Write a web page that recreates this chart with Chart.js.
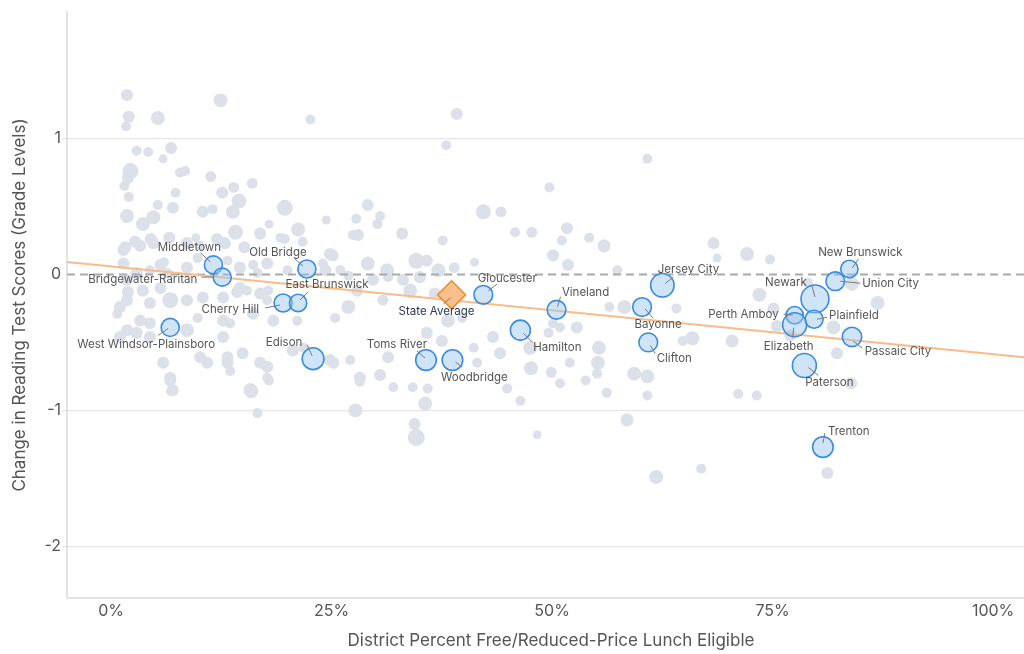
<!DOCTYPE html>
<html>
<head>
<meta charset="utf-8">
<script src="https://cdn.jsdelivr.net/npm/chart.js@4"></script>
<style>
  html, body { margin: 0; padding: 0; background: #fff; }
  #wrap { width: 1024px; height: 654px; }
</style>
</head>
<body>
<div id="wrap"><canvas id="chart" width="1024" height="654"></canvas></div>
<script>
'use strict';

// Highlighted districts: % free/reduced lunch, change in grade levels, enrollment (thousands)
const districtNames = ['Middletown', 'Bridgewater-Raritan', 'Old Bridge', 'Cherry Hill', 'East Brunswick',
    'West Windsor-Plainsboro', 'Edison', 'Toms River', 'Woodbridge', 'Gloucester', 'Hamilton', 'Vineland',
    'Bayonne', 'Clifton', 'Jersey City', 'Perth Amboy', 'Elizabeth', 'Newark', 'Plainfield', 'Union City',
    'New Brunswick', 'Passaic City', 'Paterson', 'Trenton'];
const districtLunch = [11.6, 12.6, 22.2, 19.5, 21.2, 6.7, 22.9, 35.7, 38.7, 42.2, 46.4, 50.5,
    60.2, 60.9, 62.5, 77.5, 77.5, 79.8, 79.7, 82.1, 83.7, 84.0, 78.6, 80.7];
const districtChange = [0.07, -0.02, 0.04, -0.21, -0.21, -0.39, -0.62, -0.63, -0.63, -0.15, -0.41, -0.26,
    -0.24, -0.50, -0.08, -0.30, -0.37, -0.18, -0.33, -0.05, 0.04, -0.46, -0.67, -1.27];
const districtEnroll = [13, 13, 13, 13, 12, 13, 19, 17, 17, 14, 16, 14,
    14, 14, 22, 12, 23, 31, 13, 14, 12, 15, 23, 17];

// State average
const stateLunch = [38.6];
const stateChange = [-0.15];

// All other districts
const otherLunch = [1.8, 2.0, 1.7, 5.3, 12.4, 22.6, 39.2, 38.0, 2.9, 4.2, 6.8, 5.9, 60.8, 49.7,
    2.2, 1.9, 1.5, 2.0, 1.8, 5.3, 7.0, 7.3, 7.8, 8.4, 11.3, 13.9, 16.0, 12.6, 14.5, 13.8, 10.4, 11.5,
    3.6, 4.8, 14.1, 19.7, 17.9, 21.2, 19.7, 21.7, 24.4, 6.6, 4.5, 2.7, 1.6, 9.6, 12.9, 15.1,
    27.8, 29.1, 30.5, 30.2, 28.0, 33.0, 37.6, 42.2, 44.2, 45.8, 47.7, 50.1, 25.1, 51.7, 51.1, 54.2,
    55.9, 51.8, 57.4, 68.3, 68.7, 72.1, 74.7, 79.0, 73.5, 16.9, 12.0, 8.6, 3.3, 4.8, 10.1, 19.2, 27.4,
    1.4, 2.9, 5.6, 6.4, 8.6, 6.0, 4.4, 9.8, 13.2, 14.6, 16.1, 16.6, 17.7, 20.0, 24.3, 24.8, 24.0,
    26.0, 26.9, 29.1, 31.3, 34.6, 35.8, 37.1, 38.9, 41.2, 29.7, 31.4, 33.1, 35.0, 33.9, 27.9,
    1.8, 3.6, 5.6, 1.9, 14.6, 16.9, 14.3, 15.4, 17.8, 1.4,
    6.7, 1.8, 1.0, 8.6, 10.4, 12.7, 17.7, 21.1, 18.4, 4.4, 0.7, 3.3, 4.4, 9.8, 8.6, 12.7, 16.1,
    1.8, 1.0, 2.9, 4.4, 12.7, 14.9, 10.1, 10.9, 13.2, 13.2, 5.9, 6.7, 7.0, 16.9, 17.7, 17.7, 15.8,
    16.6, 20.6, 21.8, 25.2, 27.1, 28.2, 27.7, 31.4, 32.0, 26.9, 25.4, 30.8, 36.7, 38.2, 39.8, 35.8,
    37.5, 41.1, 41.5, 43.3, 44.1, 47.5, 49.6, 50.1, 44.9, 46.4, 47.6, 49.9, 30.5, 28.2, 35.9,
    35.6, 34.4, 34.6, 48.3, 50.9, 56.2, 60.8, 58.5, 71.1, 73.2, 61.8, 66.9, 81.2, 83.9,
    6.7, 6.8, 15.9, 17.9, 56.5, 58.2, 64.1, 52.8, 50.9, 55.3, 52.0, 55.2, 53.8, 55.1, 59.3, 60.8,
    64.8, 65.9, 70.4, 75.1, 81.9, 82.3, 86.9, 84.0, 75.5, 77.0, 34.2, 13.5, 24.8, 13.5];
const otherChange = [1.32, 1.16, 1.09, 1.15, 1.28, 1.14, 1.18, 0.95, 0.91, 0.90, 0.93, 0.85, 0.85, 0.64,
    0.76, 0.71, 0.65, 0.57, 0.43, 0.51, 0.49, 0.60, 0.75, 0.76, 0.72, 0.64, 0.67, 0.60, 0.54, 0.46, 0.46, 0.48,
    0.37, 0.42, 0.31, 0.49, 0.37, 0.33, 0.26, 0.24, 0.40, 0.27, 0.26, 0.24, 0.20, 0.27, 0.23, 0.20,
    0.41, 0.51, 0.43, 0.37, 0.29, 0.30, 0.25, 0.46, 0.46, 0.31, 0.31, 0.14, 0.14, 0.34, 0.25, 0.27,
    0.21, 0.07, 0.03, 0.23, 0.12, 0.15, 0.11, -0.06, -0.15, 0.30, 0.26, 0.23, 0.21, 0.23, 0.21, 0.27, 0.29,
    0.08, 0.01, 0.07, 0.01, 0.05, 0.09, 0.03, 0.12, 0.10, 0.05, 0.07, 0.01, 0.08, 0.03, 0.03, 0.15, 0.08,
    0.03, -0.01, 0.08, 0.03, 0.10, 0.10, 0.03, 0.05, 0.09, -0.04, -0.02, -0.04, -0.02, -0.12, -0.12,
    -0.04, -0.12, -0.10, -0.13, -0.10, -0.14, -0.13, -0.12, -0.12, 0.18,
    -0.19, -0.19, -0.24, -0.19, -0.17, -0.17, -0.19, -0.34, -0.34, -0.21, -0.29, -0.34, -0.36, -0.32, -0.41, -0.34, -0.29,
    -0.41, -0.46, -0.43, -0.46, -0.46, -0.58, -0.61, -0.65, -0.61, -0.65, -0.65, -0.76, -0.85, -0.65, -0.68, -0.76, -0.85,
    -1.02, -0.56, -0.54, -0.65, -0.63, -0.76, -1.00, -0.61, -0.83, -0.24, -0.32, -0.19, -0.14, -0.34, -0.32, -0.43,
    -0.49, -0.54, -0.65, -0.46, -0.58, -0.54, -0.43, -0.36, -0.84, -0.93, -0.69, -0.72, -0.74, -0.79, -0.84,
    -0.95, -1.10, -1.20, -1.18, -0.80, -0.87, -0.89, -1.07, -0.88, -0.89, -1.49, -1.43, -1.46, -0.80,
    -0.78, -0.86, -0.86, -0.78, -0.24, -0.24, -0.25, -0.39, -0.39, -0.54, -0.65, -0.65, -0.78, -0.73, -0.73, -0.75,
    -0.49, -0.47, -0.49, -0.25, -0.39, -0.58, -0.21, -0.07, -0.38, -0.45, -0.83, -0.36, -0.63, -0.71];
const otherEnroll = [5.8, 5.8, 4, 7.8, 7.8, 4, 5.8, 4, 4, 4, 5.8, 3.2, 4, 4,
    10.2, 5.8, 4, 4, 7.8, 4, 5.8, 4, 4, 4, 4.8, 4.8, 4.8, 5.8, 9, 7.8, 5.8, 4,
    7.8, 7.8, 9, 10.2, 3.2, 7.8, 4, 4, 3.2, 5.8, 5.8, 5.8, 5.8, 3.2, 5.8, 5.8,
    4, 5.8, 4, 4, 5.8, 5.8, 4, 9, 4.8, 4, 4.8, 5.8, 5.8, 5.8, 4, 4,
    6.8, 5.8, 4, 5.8, 3.2, 7.8, 4, 4, 7.8, 5.8, 5.8, 5.8, 5.8, 5.8, 4, 4, 4,
    5.8, 5.8, 5.8, 4, 5.8, 4, 4, 4, 4, 5.8, 4, 4, 5.8, 4, 5.8, 5.8, 4,
    4, 4, 7.8, 7.8, 10.2, 5.8, 7.8, 4.8, 3.2, 5.8, 4, 5.8, 5.8, 7.8, 5.8,
    5.8, 5.8, 5.8, 5.8, 5.8, 5.8, 5.8, 4, 4, 5.8,
    10.2, 5.8, 5.8, 5.8, 5.8, 5.8, 4, 4, 5.8, 5.8, 4, 5.8, 5.8, 4, 7.8, 5.8, 5.8,
    5.8, 5.8, 5.8, 5.8, 5.8, 5.8, 5.8, 5.8, 5.8, 5.8, 5.8, 5.8, 5.8, 5.8, 5.8, 4, 7.8,
    4, 5.8, 4, 5.8, 4, 5.8, 7.8, 5.8, 4, 7.8, 4, 4.8, 5.8, 7.8, 4, 5.8,
    5.8, 4, 4, 5.8, 5.8, 7.8, 4, 4, 4, 4, 7.8, 4.8, 5.8, 4, 4,
    7.8, 5.8, 11.6, 3.2, 4, 4, 4, 6.8, 4, 4, 7.8, 4, 5.8, 5.8,
    5.8, 4, 7.8, 4, 4, 7.8, 4, 5.8, 4, 7.8, 4, 7.8, 4, 4, 7.8, 7.8,
    4, 7.8, 6.8, 5.8, 7.8, 5.8, 7.8, 7.8, 5.8, 5.8, 4, 4, 5.8, 4];

// Linear fit across the plotted range, and the zero reference
const trendLunch = [-5, 103.5];
const trendChange = [0.092, -0.61];
const zeroLunch = [-5, 103.5];
const zeroChange = [0, 0];

// Axis ticks
const xTickValues = [0, 25, 50, 75, 100];
const yTickValues = [-2, -1, 0, 1];

// Label placement (pixels relative to the circle)
const labelSpots = {
    'Middletown': { dx: -24, dy: -17, align: 'center', lead: [-3, -3, -13, -12] },
    'Bridgewater-Raritan': { dx: -25, dy: 2, align: 'right', lead: [-9, 0, -21, 0] },
    'Old Bridge': { dx: -29, dy: -16, align: 'center', lead: [-4, -3, -12, -10] },
    'Cherry Hill': { dx: -24, dy: 7, align: 'right', lead: [-3, 2, -18, 5] },
    'East Brunswick': { dx: 29, dy: -18, align: 'center', lead: [2, -3, 10, -11] },
    'West Windsor-Plainsboro': { dx: -24, dy: 17, align: 'center', lead: [-2, 1, -12, 8] },
    'Edison': { dx: -29, dy: -16, align: 'center', lead: [-1, -3, -6, -14] },
    'Toms River': { dx: -29, dy: -16, align: 'center', lead: [-1, -2, -9, -9] },
    'Woodbridge': { dx: 22, dy: 17, align: 'center', lead: [3, 2, 10, 7] },
    'Gloucester': { dx: 24, dy: -16, align: 'center', lead: [5, -4, 14, -11] },
    'Hamilton': { dx: 37, dy: 17, align: 'center', lead: [3, 3, 12, 12] },
    'Vineland': { dx: 29, dy: -17, align: 'center', lead: [1, -3, 4, -13] },
    'Bayonne': { dx: 16, dy: 18, align: 'center', lead: [3, 2, 11, 11] },
    'Clifton': { dx: 26, dy: 16, align: 'center', lead: [2, 3, 7, 11] },
    'Jersey City': { dx: 26, dy: -16, align: 'center', lead: [3, -2, 11, -8] },
    'Perth Amboy': { dx: -16, dy: -1, align: 'right', lead: [-2, 0, -11, -1] },
    'Elizabeth': { dx: -6, dy: 22, align: 'center', lead: [-1, 3, -2, 13] },
    'Newark': { dx: -29, dy: -16, align: 'center', lead: [0, -2, -3, -13] },
    'Plainfield': { dx: 15, dy: -4, align: 'left', lead: [3, 0, 13, -2] },
    'Union City': { dx: 27, dy: 2, align: 'left', lead: [5, 0, 25, 2] },
    'New Brunswick': { dx: 11, dy: -16, align: 'center', lead: [3, -1, 9, -10] },
    'Passaic City': { dx: 46, dy: 15, align: 'center', lead: [1, 4, 10, 11] },
    'Paterson': { dx: 25, dy: 17, align: 'center', lead: [4, 2, 14, 10] },
    'Trenton': { dx: 5, dy: -16, align: 'left', lead: [0, -4, 2, -14] },
    'State Average': { dx: -15, dy: 17, align: 'center', lead: [-1, 3, -8, 9] }
};

const fontFamily = 'Inter, "Noto Sans", sans-serif';
const textColor = '#555555';
const grayDot = '#dce1e9';

const radiusOf = (k) => 2.5 * Math.sqrt(k);

const toPoints = (xs, ys) => xs.map((x, i) => ({ x: x, y: ys[i] }));
const toBubbles = (xs, ys, ks) => xs.map((x, i) => ({ x: x, y: ys[i], r: radiusOf(ks[i]) }));

// Labels, leader lines and axis titles
const annotatePlugin = {
    id: 'annotate',
    afterDatasetsDraw(chart) {
        const ctx = chart.ctx;
        ctx.save();
        ctx.textBaseline = 'middle';
        const drawLabel = (name, el, color) => {
            const s = labelSpots[name];
            if (!s) return;
            ctx.strokeStyle = '#7a7a7a';
            ctx.lineWidth = 1;
            ctx.beginPath();
            ctx.moveTo(el.x + s.lead[0], el.y + s.lead[1]);
            ctx.lineTo(el.x + s.lead[2], el.y + s.lead[3]);
            ctx.stroke();
            ctx.fillStyle = color;
            ctx.textAlign = s.align;
            ctx.font = '11.5px ' + fontFamily;
            ctx.fillText(name, el.x + s.dx, el.y + s.dy);
        };
        chart.getDatasetMeta(3).data.forEach((el, i) => drawLabel(districtNames[i], el, textColor));
        chart.getDatasetMeta(4).data.forEach((el) => drawLabel('State Average', el, '#2b3856'));
        ctx.restore();
    },
    afterDraw(chart) {
        const ctx = chart.ctx;
        const area = chart.chartArea;
        ctx.save();
        ctx.fillStyle = textColor;
        ctx.font = '17px ' + fontFamily;
        ctx.textAlign = 'center';
        ctx.textBaseline = 'middle';
        ctx.fillText('District Percent Free/Reduced-Price Lunch Eligible', 551, 641);
        ctx.translate(20, (area.top + area.bottom) / 2);
        ctx.rotate(-Math.PI / 2);
        ctx.fillText('Change in Reading Test Scores (Grade Levels)', 0, 0);
        ctx.restore();
    }
};

const chart = new Chart(document.getElementById('chart'), {
    type: 'bubble',
    data: {
        datasets: [
            {
                type: 'bubble',
                data: toBubbles(otherLunch, otherChange, otherEnroll),
                backgroundColor: grayDot,
                borderWidth: 0,
                order: 5
            },
            {
                type: 'line',
                data: toPoints(zeroLunch, zeroChange),
                borderColor: '#a9a9a9',
                borderWidth: 2,
                borderDash: [8, 5],
                pointRadius: 0,
                fill: false,
                order: 4
            },
            {
                type: 'line',
                data: toPoints(trendLunch, trendChange),
                borderColor: '#f8bb8a',
                borderWidth: 2,
                pointRadius: 0,
                fill: false,
                order: 3
            },
            {
                type: 'bubble',
                data: toBubbles(districtLunch, districtChange, districtEnroll),
                backgroundColor: 'rgba(150,195,240,0.45)',
                borderColor: '#3a8ce0',
                borderWidth: 1.6,
                order: 2
            },
            {
                type: 'scatter',
                data: toPoints(stateLunch, stateChange),
                pointStyle: 'rectRot',
                pointRadius: 14,
                backgroundColor: '#f9c08d',
                borderColor: '#ef8a2e',
                borderWidth: 1.6,
                order: 1
            }
        ]
    },
    options: {
        responsive: false,
        animation: false,
        events: [],
        layout: {
            autoPadding: false,
            padding: { top: 12, right: 0, left: 0, bottom: 0 }
        },
        plugins: {
            legend: { display: false },
            tooltip: { enabled: false }
        },
        scales: {
            x: {
                type: 'linear',
                min: -5,
                max: 103.5,
                afterFit: (scale) => {
                    scale.height = 56;
                    scale.paddingLeft = 0;
                    scale.paddingRight = 0;
                },
                afterBuildTicks: (scale) => { scale.ticks = xTickValues.map((v) => ({ value: v })); },
                grid: { display: false, drawTicks: false, tickLength: 0 },
                border: { display: true, color: '#e3e3e3', width: 2 },
                ticks: {
                    padding: 4,
                    color: textColor,
                    font: { family: fontFamily, size: 16 },
                    callback: (v) => v + '%'
                }
            },
            y: {
                type: 'linear',
                min: -2.38,
                max: 1.93,
                afterFit: (scale) => {
                    scale.width = 67;
                    scale.paddingTop = 0;
                    scale.paddingBottom = 0;
                },
                afterBuildTicks: (scale) => { scale.ticks = yTickValues.map((v) => ({ value: v })); },
                grid: {
                    color: (c) => (c.tick && c.tick.value === 0 ? 'rgba(0,0,0,0)' : '#e6e6e6'),
                    lineWidth: 1.2,
                    tickLength: 5
                },
                border: { display: true, color: '#e3e3e3', width: 2 },
                ticks: {
                    padding: 1,
                    color: textColor,
                    font: { family: fontFamily, size: 16 },
                    callback: (v) => String(v)
                }
            }
        }
    },
    plugins: [annotatePlugin]
});
</script>
</body>
</html>
